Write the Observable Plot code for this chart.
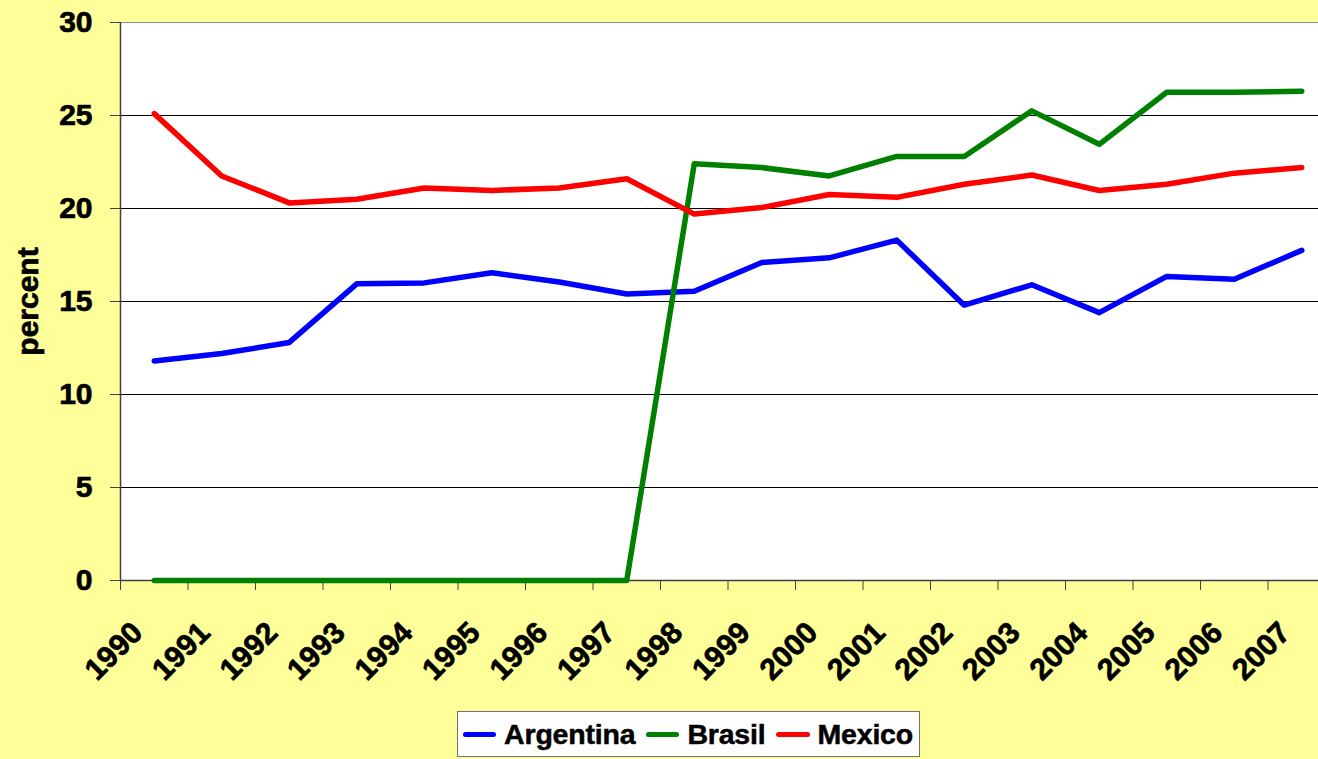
<!DOCTYPE html>
<html>
<head>
<meta charset="utf-8">
<script src="https://cdn.jsdelivr.net/npm/d3@7"></script>
<script src="https://cdn.jsdelivr.net/npm/@observablehq/plot@0.6"></script>
<style>
  html, body { margin: 0; padding: 0; background: #FFFF99; overflow: hidden; }
  #wrap { position: relative; width: 1318px; height: 759px; font-family: "Liberation Sans", Arial, sans-serif; font-weight: bold; }
  #wrap svg text { stroke: #000; stroke-width: 0.7px; }
  #legend { position: absolute; left: 457px; top: 711px; width: 461px; height: 44px; background: #fff; border: 1px solid #707070;
            display: flex; align-items: center; box-sizing: content-box; font-size: 28.5px; color: #000; -webkit-text-stroke: 0.5px #000; }
  #legend .sw { display: inline-block; width: 35px; height: 5px; border-radius: 3px; margin-left: 5px; margin-right: 8px; }
  #legend .lab { display: inline-block; margin-right: 6px; line-height: 1; letter-spacing: -0.2px; }
</style>
</head>
<body>
<div id="wrap"></div>
<script>
// Data (percent)
const years = [1990, 1991, 1992, 1993, 1994, 1995, 1996, 1997, 1998, 1999, 2000, 2001, 2002, 2003, 2004, 2005, 2006, 2007];
const argentina = [11.8, 12.2, 12.8, 15.95, 16.0, 16.55, 16.05, 15.4, 15.55, 17.1, 17.35, 18.3, 14.8, 15.9, 14.4, 16.35, 16.2, 17.75];
const brasil    = [0, 0, 0, 0, 0, 0, 0, 0, 22.4, 22.2, 21.75, 22.8, 22.8, 25.25, 23.45, 26.25, 26.25, 26.3];
const mexico    = [25.1, 21.75, 20.3, 20.5, 21.1, 20.97, 21.1, 21.6, 19.7, 20.05, 20.75, 20.6, 21.3, 21.8, 20.97, 21.3, 21.9, 22.2];
const countries = ["Argentina", "Brasil", "Mexico"];
const colors = ["#0000FF", "#008000", "#FF0000"];
const yTicks = [0, 5, 10, 15, 20, 25, 30];
const gridValues = [5, 10, 15, 20, 25];

const seriesValues = [argentina, brasil, mexico];
const rows = [];
countries.forEach((c, k) => years.forEach((yr, i) => rows.push({year: yr, value: seriesValues[k][i], country: c})));
const boundaries = years.map(y => y - 0.5);

const chart = Plot.plot({
  width: 1318,
  height: 705,
  marginLeft: 120,
  marginRight: 0,
  marginTop: 22,
  marginBottom: 125,
  x: {type: "linear", domain: [1989.5, 2007.5], range: [120, 1335]},
  y: {domain: [0, 30]},
  color: {domain: countries, range: colors},
  style: {background: "transparent", fontFamily: "'Liberation Sans', Arial, sans-serif", fontWeight: "bold", fontSize: "30px", color: "#000"},
  marks: [
    Plot.frame({fill: "white", stroke: "#8c8c8c"}),
    Plot.ruleY(gridValues, {stroke: "#000", strokeWidth: 1}),
    Plot.ruleY([0], {stroke: "#404040", strokeWidth: 1.5}),
    Plot.ruleX([1989.5], {stroke: "#404040", strokeWidth: 1.5}),
    Plot.axisY({ticks: yTicks, tickSize: 10, tickPadding: 18, label: null, stroke: "#404040", fontSize: 30}),
    Plot.axisX({ticks: boundaries, tickSize: 10, tickFormat: () => "", label: null, stroke: "#404040"}),
    Plot.text(years, {x: d => d, text: d => String(d), frameAnchor: "bottom", rotate: -45, textAnchor: "end", lineAnchor: "bottom", dx: -10, dy: 54, fontSize: 30}),
    Plot.text(["percent"], {text: d => d, frameAnchor: "left", textAnchor: "middle", lineAnchor: "middle", dx: -92, rotate: -90, fontSize: 30}),
    Plot.line(rows, {x: "year", y: "value", z: "country", stroke: "country", strokeWidth: 5.5, strokeLinecap: "round", strokeLinejoin: "round"})
  ]
});

const wrap = document.getElementById("wrap");
wrap.appendChild(chart);

const legend = document.createElement("div");
legend.id = "legend";
countries.forEach((c, k) => {
  const sw = document.createElement("span");
  sw.className = "sw";
  sw.style.background = colors[k];
  const lab = document.createElement("span");
  lab.className = "lab";
  lab.textContent = c;
  legend.appendChild(sw);
  legend.appendChild(lab);
});
wrap.appendChild(legend);
</script>
</body>
</html>
